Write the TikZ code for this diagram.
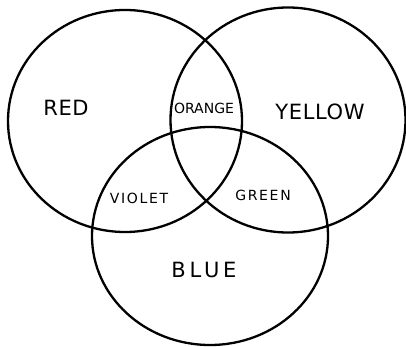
\documentclass[tikz,border=0pt]{standalone}
\usepackage{fontspec}
\setmainfont{DejaVu Sans}
\usetikzlibrary{shapes.geometric}
\tikzset{
  setring/.style={ellipse, draw=black, line width=2.3pt, inner sep=0pt, fill=none},
  biglabel/.style={font=\fontsize{21}{21}\selectfont\addfontfeature{LetterSpace=3}, inner sep=0pt},
  smalllabel/.style={font=\fontsize{14}{14}\selectfont, inner sep=0pt},
  widesmall/.style={font=\fontsize{14}{14}\selectfont\addfontfeature{LetterSpace=12}, inner sep=0pt}
}
\begin{document}
\begin{tikzpicture}[x=1pt,y=-1pt]
\useasboundingbox (0,0) rectangle (406,347);
\node[setring, minimum width=234pt, minimum height=222pt] (redring) at (125,121) {};
\node[setring, minimum width=235pt, minimum height=225pt] (yellowring) at (288,120) {};
\node[setring, minimum width=236pt, minimum height=218pt] (bluering) at (210,236) {};
\node[biglabel] (red) at (66,108) {RED};
\node[biglabel] (yellow) at (320,112) {YELLOW};
\node[biglabel, font=\fontsize{21}{21}\selectfont\addfontfeature{LetterSpace=18}] (blue) at (204,270) {BLUE};
\node[smalllabel] (orange) at (204,108) {ORANGE};
\node[widesmall] (violet) at (139,198) {VIOLET};
\node[widesmall] (green) at (263,195) {GREEN};
\end{tikzpicture}
\end{document}
